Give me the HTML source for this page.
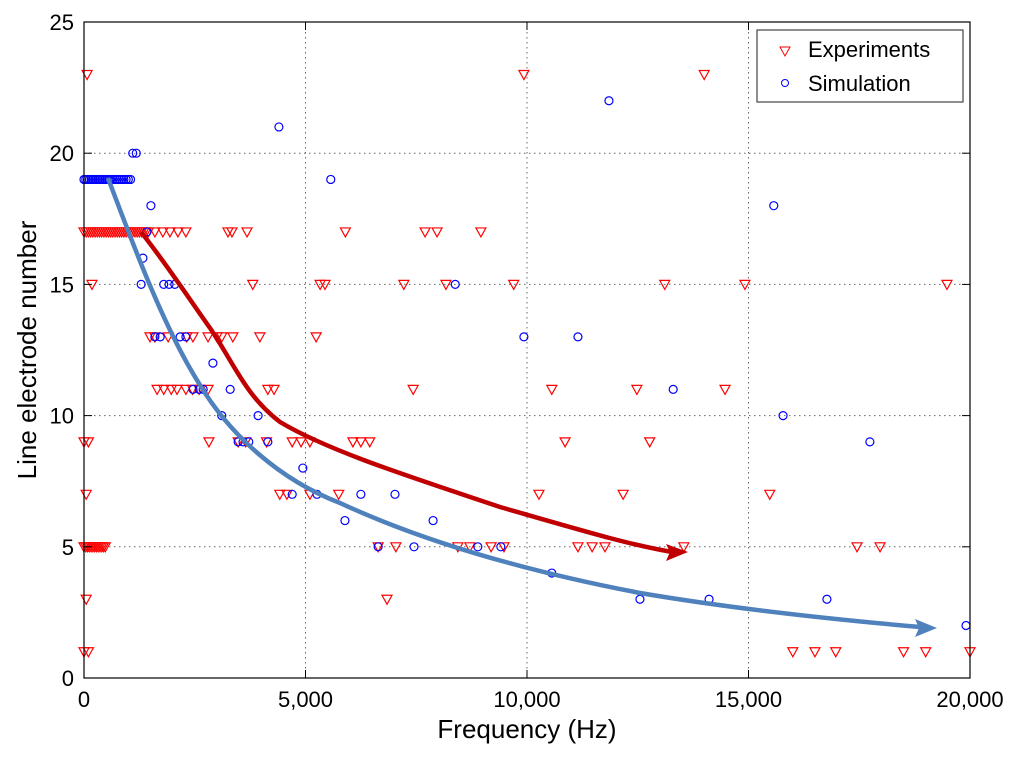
<!DOCTYPE html>
<html><head><meta charset="utf-8"><style>
body{margin:0;background:#fff;}
svg text{font-family:"Liberation Sans",sans-serif;}
</style></head><body>
<svg id="chart" width="1024" height="757" xmlns="http://www.w3.org/2000/svg">
<rect x="0" y="0" width="1024" height="757" fill="#fff"/>
<g id="grid"></g>
<g id="marks"></g>
<g id="arrows">
<path d="M141,232 C165,262 190,300 210,328 C235,365 245,395 280,422 C330,452 420,480 500,507 C580,530 630,545 672,552" fill="none" stroke="#c00000" stroke-width="4.5"/>
<polygon points="688,552 666,544 670,552 666,561" fill="#c00000"/>
<path d="M108,178 C135,250 165,330 200,385 C230,435 280,480 340,503 C420,540 520,570 640,593 C740,610 840,620 920,627" fill="none" stroke="#4f81bd" stroke-width="4.5"/>
<polygon points="937,628 915,619 919,628 915,637" fill="#4f81bd"/>
</g>
<rect x="84" y="22" width="886" height="656" fill="none" stroke="#000" stroke-width="1.2"/>
<g id="ticks"></g>
<text x="527" y="738" font-size="26" text-anchor="middle">Frequency (Hz)</text>
<text x="36" y="350" font-size="26" text-anchor="middle" transform="rotate(-90 36 350)">Line electrode number</text>
<g>
<rect x="757" y="30" width="206" height="72" fill="#fff" stroke="#444" stroke-width="1.2"/>
<polygon points="780,47 790,47 785,56" fill="none" stroke="#ff0000"/>
<text x="808" y="57" font-size="22">Experiments</text>
<circle cx="785" cy="83" r="3.5" fill="none" stroke="#0000ff"/>
<text x="808" y="91" font-size="22">Simulation</text>
</g>
</svg>
<script>
const xTicks=[0,5000,10000,15000,20000];
const xTickLabels=["0","5,000","10,000","15,000","20,000"];
const yTicks=[0,5,10,15,20,25];
// Experiments: electrode number per row and the frequencies (Hz) observed on that row
const expLevels=[23,17,15,13,11,9,7,5,3,1];
const expFreqs=[
[70,9930,14000],
[0,50,100,150,200,250,300,350,400,450,500,550,600,650,700,750,800,850,900,950,1000,1050,1100,1150,1200,1250,1300,1350,1400,1450,1600,1780,1940,2120,2300,3250,3340,3680,5900,7700,7970,8960],
[180,3810,5330,5440,7220,8170,9700,13110,14920,19480],
[1490,1600,1900,2320,2460,2800,3000,3110,3360,3970,5240],
[1650,1800,1970,2100,2300,2450,2600,2800,4150,4290,7430,10560,12480,14470],
[0,100,2820,3480,3650,4120,4700,4900,5100,6070,6250,6450,10860,12770],
[50,4420,4580,5100,5750,10270,12170,15480],
[0,40,80,120,160,200,240,280,320,360,400,440,480,6640,7040,8440,8710,9190,9480,11150,11470,11760,13540,17450,17970],
[50,6840],
[0,100,16000,16500,16970,18500,19000,20000]];
// Simulation
const simLevels=[22,21,20,19,18,17,16,15,13,12,11,10,9,8,7,6,5,4,3,2];
const simFreqs=[
[11850],
[4400],
[1100,1180],
[0,40,80,120,160,200,240,280,320,360,400,440,480,520,560,600,650,700,750,800,850,900,950,1000,1050,5570],
[1510,15570],
[1420],
[1330],
[1290,1800,1920,2050,8380],
[1600,1720,2170,2300,9930,11150],
[2910],
[2460,2600,2690,3300,13300],
[3110,3930,15780],
[3480,3590,3720,4150,17740],
[4940],
[4700,5260,6250,7020],
[5890,7880],
[6640,7450,8890,9410],
[10560],
[12550,14110,16770],
[19910]];
const X0=84,X1=970,Y0=678,Y1=22;
const sx=v=>X0+(v-0)/20000*(X1-X0);
const sy=v=>Y0-(v-0)/25*(Y0-Y1);
const NS="http://www.w3.org/2000/svg";
const grid=document.getElementById('grid'),ticks=document.getElementById('ticks'),marks=document.getElementById('marks');
function mk(tag,attrs,parent){const e=document.createElementNS(NS,tag);for(const k in attrs)e.setAttribute(k,attrs[k]);parent.appendChild(e);return e;}
xTicks.forEach((t,i)=>{
  const x=sx(t);
  if(i>0&&i<xTicks.length-1){const g=mk('line',{x1:x,x2:x,y1:Y1,y2:Y0,stroke:'#666','stroke-dasharray':'1.5,3.5'},grid);
  
  }
  const l=mk('line',{x1:x,x2:x,y1:Y0,y2:Y0-8,stroke:'#000'},ticks);
  
  
  const l2=mk('line',{x1:x,x2:x,y1:Y1,y2:Y1+8,stroke:'#000'},ticks);
  
  
  const tx=mk('text',{x:x,y:707,'font-size':22,'text-anchor':'middle'},ticks);
  tx.textContent=xTickLabels[i];
  
  
});
yTicks.forEach((t,i)=>{
  const y=sy(t);
  if(i>0&&i<yTicks.length-1){const g=mk('line',{x1:X0,x2:X1,y1:y,y2:y,stroke:'#666','stroke-dasharray':'1.5,3.5'},grid);
  
  }
  const l=mk('line',{x1:X0,x2:X0+8,y1:y,y2:y,stroke:'#000'},ticks);
  
  
  const l2=mk('line',{x1:X1,x2:X1-8,y1:y,y2:y,stroke:'#000'},ticks);
  
  
  const tx=mk('text',{x:74,y:y+8,'font-size':22,'text-anchor':'end'},ticks);
  tx.textContent=String(t);
  
  
});
expLevels.forEach((lev,r)=>{
  expFreqs[r].forEach(v=>{
    const x=sx(v),y=sy(lev);
    const p=mk('polygon',{points:`${x-5},${y-4} ${x+5},${y-4} ${x},${y+5}`,fill:'none',stroke:'#ff0000','stroke-width':1.2},marks);
    
    
  });
});
simLevels.forEach((lev,r)=>{
  simFreqs[r].forEach(v=>{
    const c=mk('circle',{cx:sx(v),cy:sy(lev),r:4,fill:'none',stroke:'#0000ff','stroke-width':1.2},marks);
    
    
  });
});
</script>
</body></html>
